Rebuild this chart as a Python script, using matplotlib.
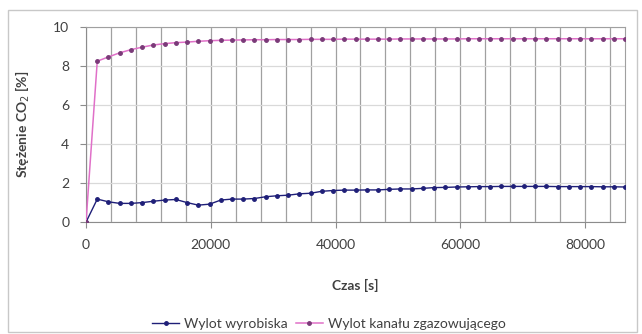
import matplotlib
matplotlib.use("Agg")
import matplotlib.pyplot as plt
from matplotlib.patches import Rectangle
from matplotlib.ticker import MultipleLocator

plt.rcParams['font.family'] = ['Lato', 'DejaVu Sans']

# pomiary co 1800 s przez dobę
czas = [i * 1800 for i in range(49)]

wylot_wyrobiska = [
    0.00, 1.18, 1.04, 0.96, 0.96, 1.00, 1.07, 1.13, 1.16, 1.00,
    0.87, 0.92, 1.13, 1.18, 1.18, 1.21, 1.30, 1.35, 1.38, 1.45,
    1.48, 1.58, 1.62, 1.64, 1.64, 1.65, 1.65, 1.68, 1.70, 1.70,
    1.73, 1.77, 1.78, 1.80, 1.81, 1.82, 1.82, 1.83, 1.83, 1.83,
    1.83, 1.83, 1.82, 1.82, 1.82, 1.82, 1.81, 1.81, 1.80,
]

wylot_kanalu = [
    0.00, 8.25, 8.47, 8.68, 8.84, 8.97, 9.08, 9.15, 9.20, 9.23,
    9.27, 9.30, 9.32, 9.33, 9.34, 9.35, 9.35, 9.36, 9.36, 9.36,
    9.37, 9.37, 9.37, 9.38, 9.38, 9.38, 9.38, 9.38, 9.39, 9.39,
    9.39, 9.39, 9.39, 9.39, 9.40, 9.40, 9.40, 9.40, 9.40, 9.40,
    9.40, 9.40, 9.40, 9.40, 9.40, 9.40, 9.40, 9.40, 9.40,
]

fig = plt.figure(figsize=(6.42, 3.34), dpi=100)
ax = fig.add_axes([0.134, 0.335, 0.8395, 0.584])

# ramka wykresu
fig.patches.append(Rectangle((0.013, 0.006), 0.979, 0.964, transform=fig.transFigure,
                             fill=False, edgecolor='#c8c8c8', linewidth=1.0))

ax.plot(czas, wylot_wyrobiska, color='#1f1f78', linewidth=1.0, marker='o',
        markersize=2.5, markerfacecolor='#1f1f78', markeredgecolor='#1f1f78',
        label='Wylot wyrobiska', zorder=3)
ax.plot(czas, wylot_kanalu, color='#e070c8', linewidth=1.1, marker='o',
        markersize=2.5, markerfacecolor='#7a3a78', markeredgecolor='#7a3a78',
        label='Wylot kanału zgazowującego', zorder=3)

ax.set_xlim(0, 86400)
ax.set_ylim(0, 10)
ax.xaxis.set_major_locator(MultipleLocator(20000))
ax.xaxis.set_minor_locator(MultipleLocator(4000))
ax.yaxis.set_major_locator(MultipleLocator(2))

ax.grid(which='minor', axis='x', color='#a0a0a0', linewidth=0.9)
ax.grid(which='major', axis='x', color='#a0a0a0', linewidth=0.9)
ax.grid(which='major', axis='y', color='#d9d9d9', linewidth=0.9)
ax.set_axisbelow(True)

for side in ['top', 'right']:
    ax.spines[side].set_color('#a0a0a0')
for side in ['left', 'bottom']:
    ax.spines[side].set_color('#8c8c8c')

ax.tick_params(axis='both', which='major', labelsize=10, colors='#8c8c8c',
               labelcolor='#404040', length=4, pad=8)
ax.tick_params(axis='x', which='minor', length=0)

ax.set_xlabel('Czas [s]', fontsize=10, fontweight='bold', color='#404040', labelpad=20)
ax.set_ylabel('Stężenie CO$_2$ [%]', fontsize=10, fontweight='bold', color='#404040', labelpad=15)

ax.legend(loc='center', bbox_to_anchor=(0.45, -0.52), ncol=2, frameon=False,
          fontsize=10, handlelength=2.0, columnspacing=0.6, handletextpad=0.3,
          labelcolor='#404040', borderpad=0)

fig.savefig('out.png', dpi=100)
